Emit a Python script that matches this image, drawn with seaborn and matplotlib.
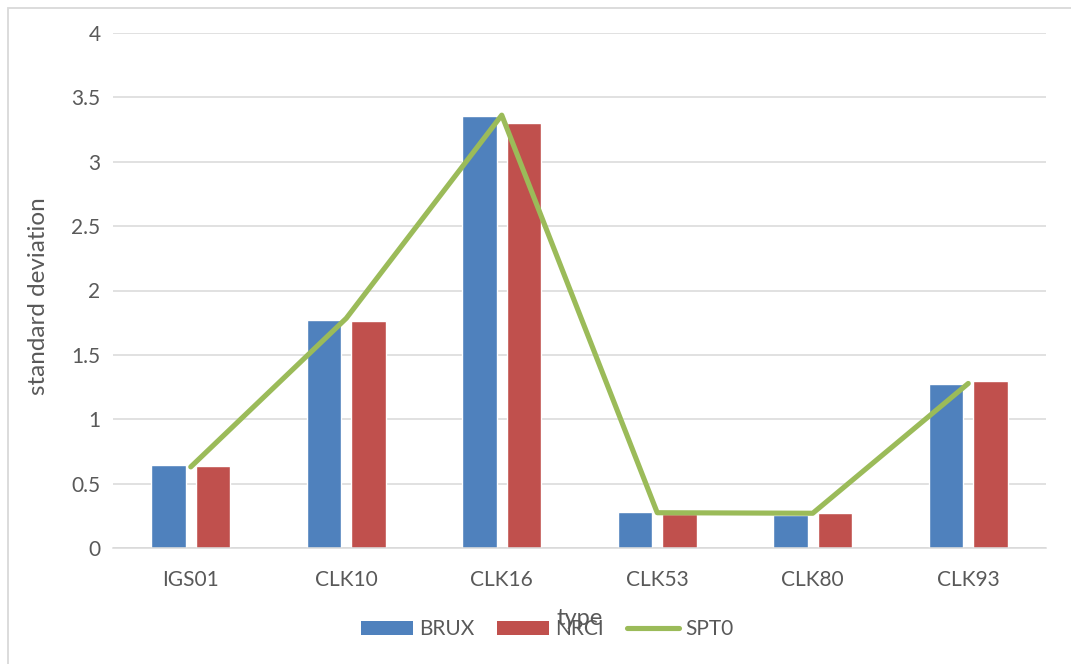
import matplotlib
matplotlib.use("Agg")
import matplotlib.pyplot as plt
from matplotlib.patches import Patch, Rectangle
from matplotlib.lines import Line2D
import seaborn as sns
import pandas as pd

# Clock types and their standard deviations per analysis centre
types = ["IGS01", "CLK10", "CLK16", "CLK53", "CLK80", "CLK93"]
brux = [0.642, 1.771, 3.355, 0.280, 0.255, 1.274]
nrci = [0.634, 1.761, 3.303, 0.265, 0.270, 1.297]
spt0 = [0.630, 1.784, 3.362, 0.274, 0.270, 1.278]

BLUE = "#4F81BD"
RED = "#C0504D"
GREEN = "#9BBB59"
TEXT = "#595959"
GRID = "#D9D9D9"

sns.set_style("white")
plt.rcParams["font.family"] = ["Lato", "DejaVu Sans"]

bars = pd.DataFrame({
    "type": types * 2,
    "value": brux + nrci,
    "series": ["BRUX"] * len(types) + ["NRCI"] * len(types),
})

fig = plt.figure(figsize=(10.71, 6.64), dpi=100)
ax = fig.add_axes([113 / 1071, 116 / 664, 933 / 1071, 515 / 664])

sns.barplot(data=bars, x="type", y="value", hue="series", order=types,
            hue_order=["BRUX", "NRCI"], palette=[BLUE, RED],
            width=0.573, gap=0.225, errorbar=None, legend=False,
            saturation=1, ax=ax)
sns.pointplot(x=types, y=spt0, order=types, color=GREEN, markers="",
              linestyles="-", linewidth=3.7, errorbar=None, ax=ax)
for ln in ax.lines:
    ln.set_solid_capstyle("round")
    ln.set_solid_joinstyle("round")
    ln.set_zorder(4)

ax.set_xlim(-0.5, len(types) - 0.5)
ax.set_ylim(0, 4)
ax.set_yticks([0, 0.5, 1, 1.5, 2, 2.5, 3, 3.5, 4])
ax.set_yticklabels(["0", "0.5", "1", "1.5", "2", "2.5", "3", "3.5", "4"])
ax.yaxis.grid(True, color=GRID, linewidth=1.1)
ax.set_axisbelow(True)
for side in ["left", "right", "top"]:
    ax.spines[side].set_visible(False)
ax.spines["bottom"].set_color(GRID)
ax.spines["bottom"].set_linewidth(1.1)
ax.tick_params(axis="both", length=0, labelsize=15, colors=TEXT)
ax.tick_params(axis="x", pad=16)
ax.tick_params(axis="y", pad=9)

ax.set_ylabel("standard deviation", fontsize=17.5, color=TEXT)
ax.yaxis.set_label_coords(-0.069, 0.49)
ax.set_xlabel("type", fontsize=17, color=TEXT)
ax.xaxis.set_label_coords(0.5, -0.117)

handles = [
    Patch(facecolor=BLUE, edgecolor="none"),
    Patch(facecolor=RED, edgecolor="none"),
    Line2D([], [], color=GREEN, linewidth=3.7, solid_capstyle="round"),
]
leg = fig.legend(handles, ["BRUX", "NRCI", "SPT0"], loc="center",
                 bbox_to_anchor=(547 / 1071, 1 - 629 / 664), ncol=3,
                 frameon=False, fontsize=15, handlelength=2.5,
                 handleheight=0.67, handletextpad=0.3, columnspacing=1.1)
for t in leg.get_texts():
    t.set_color(TEXT)

# chart area border
fig.patches.append(Rectangle((7.5 / 1071, -0.05), 1.2, 1 - 7.5 / 664 + 0.05,
                             transform=fig.transFigure, fill=False,
                             edgecolor=GRID, linewidth=1.3))

fig.savefig("out.png", dpi=100)
